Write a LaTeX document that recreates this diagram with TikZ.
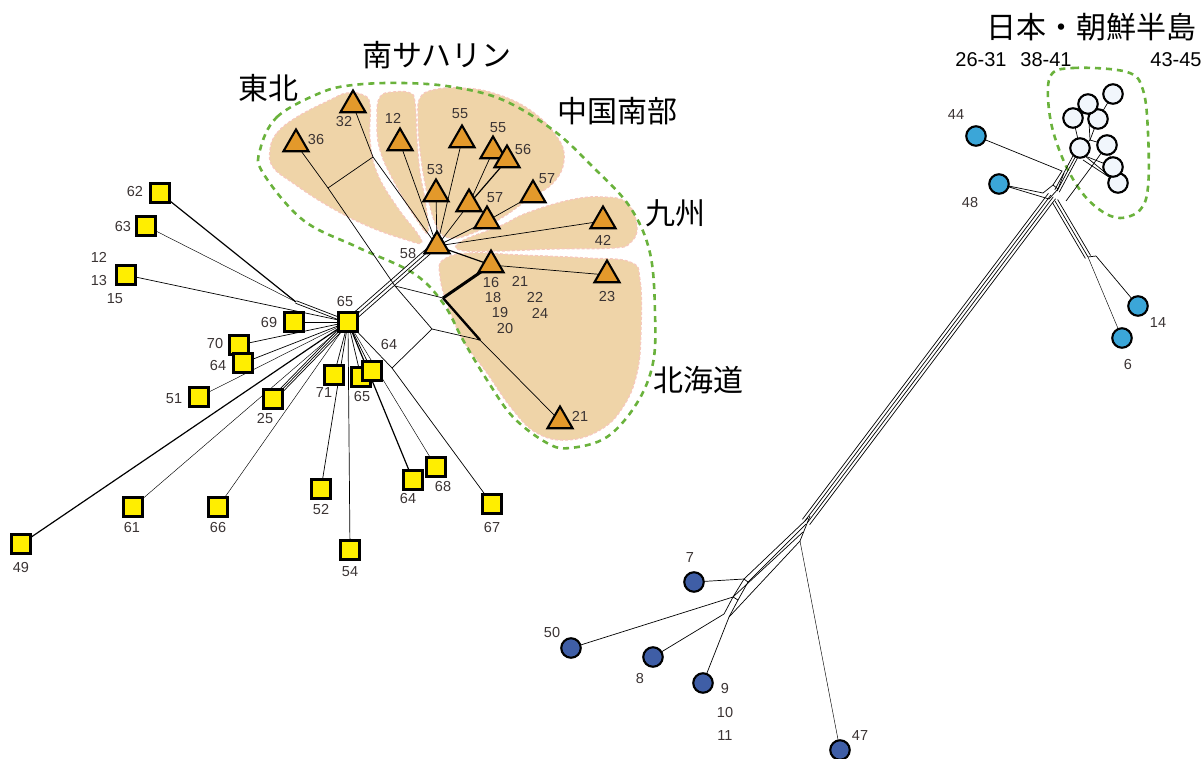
\documentclass[tikz,border=0pt]{standalone}
\usepackage{fontspec}
\setmainfont{Liberation Sans}
\newfontfamily\jp{Noto Sans CJK JP}
\usetikzlibrary{shapes.geometric,calc}
\definecolor{sqyellow}{HTML}{FFEE00}
\definecolor{triorange}{HTML}{E3992B}
\definecolor{lblue}{HTML}{3BA6D8}
\definecolor{dblue}{HTML}{3F5EA6}
\definecolor{wcirc}{HTML}{F1F6FC}
\definecolor{tan}{HTML}{EFD4A8}
\definecolor{tanedge}{HTML}{F6C8BC}
\definecolor{grn}{HTML}{6AB23C}
\definecolor{lblgrey}{HTML}{3A3333}
\pgfdeclarelayer{regions}
\pgfdeclarelayer{edges}
\pgfsetlayers{regions,edges,main}
\newcommand\bandline[3]{\draw[edge] ($(#1)!#3!90:(#2)$) -- ($(#2)!#3!-90:(#1)$);}
\tikzset{
  sq/.style={draw=black, line width=2.1pt, fill=sqyellow, minimum size=19pt, inner sep=0pt},
  tri/.style={regular polygon, regular polygon sides=3, draw=black, line width=2.1pt, fill=triorange, minimum size=29pt, inner sep=0pt},
  cir/.style={circle, draw=black, line width=2.1pt, minimum size=19.5pt, inner sep=0pt},
  lc/.style={cir, fill=lblue},
  dc/.style={cir, fill=dblue},
  wc/.style={cir, fill=wcirc},
  lbl/.style={font=\fontsize{14.5}{15}\selectfont, text=lblgrey, inner sep=0pt},
  rng/.style={font=\fontsize{20}{20}\selectfont, text=black, inner sep=0pt},
  ttl/.style={font=\jp\fontsize{30}{30}\selectfont, text=black, inner sep=0pt},
  edge/.style={line width=0.7pt, black},
  thinedge/.style={line width=0.45pt, black},
  heavy/.style={line width=1.2pt, black},
  region/.style={fill=tan, draw=tanedge, line width=1.3pt, dash pattern=on 3pt off 2pt},
  outline/.style={draw=grn, line width=2.6pt, dash pattern=on 6pt off 5pt},
}
\begin{document}
\begin{tikzpicture}[x=1pt,y=-1pt]
\useasboundingbox (0,0) rectangle (1204,758);

% ---------- squares ----------
\node[sq] (s62) at (160,193) {};
\node[sq] (s63) at (146,226) {};
\node[sq] (s12) at (126,275) {};
\node[sq] (s69) at (294,322) {};
\node[sq] (s65) at (348,322) {};
\node[sq] (s70) at (239,345) {};
\node[sq] (s64a) at (243,363) {};
\node[sq] (s51) at (199,397) {};
\node[sq] (s25) at (273,399) {};
\node[sq] (s71) at (334,375) {};
\node[sq] (s65b) at (361,377) {};
\node[sq] (s65c) at (372,371) {};
\node[sq] (s49) at (21,544) {};
\node[sq] (s61) at (133,507) {};
\node[sq] (s66) at (218,507) {};
\node[sq] (s52) at (321,489) {};
\node[sq] (s54) at (350,550) {};
\node[sq] (s64b) at (413,480) {};
\node[sq] (s68) at (436,467) {};
\node[sq] (s67) at (492,504) {};

% ---------- triangles ----------
\node[tri] (t32) at (353,105) {};
\node[tri] (t36) at (296,144) {};
\node[tri] (t12) at (400,143) {};
\node[tri] (t55a) at (462,140) {};
\node[tri] (t55b) at (493,151) {};
\node[tri] (t56) at (507,160) {};
\node[tri] (t53) at (436,194) {};
\node[tri] (t57a) at (469,204) {};
\node[tri] (t57b) at (487,221) {};
\node[tri] (t57c) at (533,195) {};
\node[tri] (t42) at (603,221) {};
\node[tri] (t58) at (437,246) {};
\node[tri] (t16) at (491,265) {};
\node[tri] (t23) at (607,275) {};
\node[tri] (t21) at (560,421) {};

% ---------- circles ----------
\node[lc] (c44) at (976,136) {};
\node[lc] (c48) at (999,184) {};
\node[lc] (c14) at (1138,306) {};
\node[lc] (c6) at (1122,338) {};
\node[wc] (w8) at (1118,183) {};
\node[wc] (w7) at (1113,167) {};
\node[wc] (w6) at (1107,145) {};
\node[wc] (w5) at (1080,148) {};
\node[wc] (w4) at (1098,119) {};
\node[wc] (w3) at (1073,118) {};
\node[wc] (w2) at (1088,104) {};
\node[wc] (w1) at (1113,94) {};
\node[dc] (d7) at (694,582) {};
\node[dc] (d50) at (571,648) {};
\node[dc] (d8) at (653,657) {};
\node[dc] (d9) at (703,683) {};
\node[dc] (d47) at (840,750) {};

% ---------- internal points ----------
\coordinate (G) at (296,302);
\coordinate (E) at (392,368);
\coordinate (A) at (395,286);
\coordinate (B) at (443,298);
\coordinate (C) at (432,329);
\coordinate (D) at (480,340);
\coordinate (K1) at (373,157);
\coordinate (K2) at (328,188);
\coordinate (N58) at (431,249);
\coordinate (P) at (806,522);
\coordinate (Q) at (1052,196);
\coordinate (PT) at (810,516);
\coordinate (PB) at (800,541);
\coordinate (L1) at (744,579);
\coordinate (L2) at (733,597);
\coordinate (L3) at (724,614);
\coordinate (M1) at (748,582);
\coordinate (M2) at (738,600);
\coordinate (M3) at (729,617);
\coordinate (J1) at (1043,193);
\coordinate (J2) at (1062,171);
\coordinate (J3) at (1053,185);
\coordinate (J4) at (1058,189);
\coordinate (J5) at (1049,199);
\coordinate (R1) at (1055,201);
\coordinate (R2) at (1088,257);
\coordinate (R3) at (1096,256);
\coordinate (U1) at (1057,191);
\coordinate (U2) at (1066,201);
\coordinate (U3) at (1092,166);
\coordinate (W0) at (1090,140);
\coordinate (W9) at (1085,156);

% ---------- regions ----------
\begin{pgfonlayer}{regions}
\draw[region] plot[smooth cycle, tension=0.7] coordinates {(270,150) (277,133) (297,117) (330,100) (347,93) (363,95) (370,105) (370,140) (377,173) (397,207) (417,233) (421,243) (407,240) (370,227) (330,207) (293,183) (273,167)};
\draw[region] plot[smooth cycle, tension=0.7] coordinates {(380,97) (393,92) (410,93) (415,103) (417,140) (420,173) (425,200) (428,232) (417,220) (397,187) (380,150) (377,117)};
\draw[region] plot[smooth cycle, tension=0.7] coordinates {(420,98) (433,90) (460,88) (493,93) (530,110) (557,137) (564,160) (553,183) (527,200) (503,217) (473,233) (450,238) (437,227) (427,193) (420,150) (418,117)};
\draw[region] plot[smooth cycle, tension=0.7] coordinates {(462,241) (500,226) (527,213) (570,200) (603,197) (627,203) (637,227) (630,243) (613,248) (553,249) (497,251) (460,250)};
\draw[region] plot[smooth cycle, tension=0.7] coordinates {(443,260) (470,253) (520,255) (587,258) (630,262) (640,280) (641,330) (637,373) (623,407) (600,430) (567,440) (537,433) (513,410) (487,373) (463,340) (447,303) (440,276)};
\draw[outline] plot[smooth cycle, tension=0.6] coordinates {(260,150) (277,117) (320,93) (353,85) (403,83) (453,87) (503,100) (553,130) (593,167) (630,207) (650,253) (655,313) (653,363) (637,403) (607,437) (570,448) (547,443) (513,417) (487,380) (463,340) (443,303) (413,273) (357,247) (303,220) (263,173)};
\draw[outline] plot[smooth cycle, tension=0.6] coordinates {(1050,77) (1073,68) (1127,72) (1143,90) (1148,133) (1148,187) (1140,210) (1120,218) (1100,210) (1080,190) (1062,157) (1050,117)};
\end{pgfonlayer}

% ---------- edges ----------
\begin{pgfonlayer}{edges}
% left square cluster
\draw[heavy] (s62.center) -- (G);
\draw[thinedge] (s63.center) -- (G);
\bandline{G}{s65.center}{-1.3pt}
\bandline{G}{s65.center}{1.3pt}
\draw[edge] (s12.center) -- (s65.center);
\draw[edge] (s69.center) -- (s65.center);
\draw[edge] (s70.center) -- (s65.center);
\draw[edge] (s64a.center) -- (s65.center);
\draw[thinedge] (s51.center) -- (s65.center);
\bandline{s25.center}{s65.center}{-2pt}
\bandline{s25.center}{s65.center}{0pt}
\bandline{s25.center}{s65.center}{2pt}
\draw[thinedge] (s61.center) -- (s65.center);
\draw[heavy] (s49.center) -- (s65.center);
\draw[thinedge] (s66.center) -- (s65.center);
\draw[edge] (s71.center) -- (s65.center);
\draw[edge] (s65b.center) -- (s65.center);
\draw[edge] (s65c.center) -- (s65.center);
\draw[edge] (s52.center) -- (s65.center);
\draw[edge] (s54.center) -- (s65.center);
\draw[heavy] (s64b.center) -- (s65.center);
\draw[thinedge] (s68.center) -- (s65.center);
\draw[edge] (s65.center) -- (E) -- (s67.center);
% band 65 - 58
\bandline{s65.center}{N58}{-3.2pt}
\bandline{s65.center}{N58}{0pt}
\bandline{s65.center}{N58}{3.2pt}
\draw[edge] (N58) -- (t58.center);
% splits box
\draw[edge] (t36.center) -- (K2) -- (A);
\draw[edge] (K2) -- (K1);
\draw[edge] (t32.center) -- (K1) -- (t58.center);
\draw[edge] (A) -- (B);
\draw[edge] (A) -- (C);
\draw[edge] (C) -- (D);
\draw[edge] (C) -- (E);
\draw[line width=2.4pt] (B) -- (D);
\draw[line width=3pt] (B) -- (t16.center);
\draw[edge] (D) -- (t21.center);
% triangle fan
\draw[edge] (t58.center) -- (t12.center);
\draw[edge] (t58.center) -- (t53.center);
\draw[edge] (t58.center) -- (t55a.center);
\draw[edge] (t58.center) -- (t57a.center);
\draw[edge] (t57a.center) -- (t55b.center);
\draw[heavy] (t57a.center) -- (t56.center);
\draw[edge] (t58.center) -- (t57b.center);
\draw[edge] (t57b.center) -- (t57c.center);
\draw[edge] (t58.center) -- (t42.center);
\draw[heavy] (t58.center) -- (t16.center);
\draw[edge] (t16.center) -- (t23.center);
% long band
\bandline{P}{Q}{-4.5pt}
\bandline{P}{Q}{-1.5pt}
\bandline{P}{Q}{1.5pt}
\bandline{P}{Q}{4.5pt}
% bottom hub
\draw[edge] (PT) -- (PB);
\draw[edge] (808,518) -- (L1);
\draw[edge] (806,524) -- (M1);
\draw[edge] (803,532) -- (L2);
\draw[edge] (PB) -- (M3);
\draw[edge] (L1) -- (L2) -- (L3);
\draw[edge] (M1) -- (M2) -- (M3);
\draw[edge] (L1) -- (M1);
\draw[edge] (L2) -- (M2);
\draw[edge] (d7.center) -- (L1);
\draw[edge] (d50.center) -- (L2);
\draw[edge] (d8.center) -- (L3);
\draw[edge] (d9.center) -- (M3);
\draw[thinedge] (PB) -- (d47.center);
% top hub
\draw[edge] (c48.center) -- (J1) -- (J3) -- (J4) -- (J5) -- cycle;
\draw[edge] (c44.center) -- (J2) -- (J3);
\draw[edge] (1064,173) -- (J4);
\bandline{U1}{w5.center}{-2.5pt}
\bandline{U1}{w5.center}{0pt}
\bandline{U1}{w5.center}{2.5pt}
\draw[edge] (U2) -- (U3) -- (w6.center);
\bandline{R1}{R2}{-3pt}
\bandline{R1}{R2}{0pt}
\bandline{R1}{R2}{3pt}
\draw[edge] (R2) -- (R3);
\draw[thinedge] (R2) -- (c6.center);
\draw[edge] (R3) -- (c14.center);
\draw[edge] (w5.center) -- (W0) -- (w2.center);
\draw[edge] (W0) -- (w4.center) -- (w1.center);
\draw[edge] (w5.center) -- (w3.center);
\draw[edge] (W0) -- (w6.center) -- (w7.center);
\draw[edge] (W9) -- (w8.center);
\draw[edge] (1083,160) -- (w8.center);
\draw[edge] (W9) -- (w7.center);
\end{pgfonlayer}

% ---------- titles ----------
\node[ttl] (tTohoku) at (268,88) {東北};
\node[ttl] (tSakh) at (437,55) {南サハリン};
\node[ttl] (tChugoku) at (617,111) {中国南部};
\node[ttl] (tKyushu) at (675,213) {九州};
\node[ttl] (tHokkaido) at (698,380) {北海道};
\node[ttl] (tJapan) at (1091,27) {日本・朝鮮半島};
\node[rng] (r1) at (981,60) {26-31};
\node[rng] (r2) at (1046,60) {38-41};
\node[rng] (r3) at (1176,60) {43-45};

% ---------- labels ----------
\node[lbl] (l62) at (135,192) {62};
\node[lbl] (l63) at (123,227) {63};
\node[lbl] (l12) at (99,257) {12};
\node[lbl] (l13) at (99,281) {13};
\node[lbl] (l15) at (115,299) {15};
\node[lbl] (l69) at (269,323) {69};
\node[lbl] (l65) at (345,302) {65};
\node[lbl] (l70) at (215,344) {70};
\node[lbl] (l64a) at (218,366) {64};
\node[lbl] (l51) at (174,399) {51};
\node[lbl] (l25) at (265,419) {25};
\node[lbl] (l71) at (324,393) {71};
\node[lbl] (l65b) at (362,397) {65};
\node[lbl] (l64m) at (389,345) {64};
\node[lbl] (l49) at (21,567) {49};
\node[lbl] (l61) at (132,527) {61};
\node[lbl] (l66) at (218,527) {66};
\node[lbl] (l52) at (321,509) {52};
\node[lbl] (l54) at (350,572) {54};
\node[lbl] (l64b) at (408,498) {64};
\node[lbl] (l68) at (443,486) {68};
\node[lbl] (l67) at (492,527) {67};
\node[lbl] (l32) at (344,122) {32};
\node[lbl] (l36) at (316,140) {36};
\node[lbl] (l12t) at (393,118) {12};
\node[lbl] (l55a) at (460,114) {55};
\node[lbl] (l55b) at (498,128) {55};
\node[lbl] (l56) at (523,150) {56};
\node[lbl] (l53) at (435,170) {53};
\node[lbl] (l57a) at (495,198) {57};
\node[lbl] (l57c) at (547,179) {57};
\node[lbl] (l42) at (603,240) {42};
\node[lbl] (l58) at (408,254) {58};
\node[lbl] (l16) at (491,283) {16};
\node[lbl] (l21a) at (520,281) {21};
\node[lbl] (l18) at (493,298) {18};
\node[lbl] (l22) at (535,297) {22};
\node[lbl] (l19) at (500,313) {19};
\node[lbl] (l24) at (540,313) {24};
\node[lbl] (l20) at (505,329) {20};
\node[lbl] (l23) at (607,297) {23};
\node[lbl] (l21b) at (580,416) {21};
\node[lbl] (l44) at (956,115) {44};
\node[lbl] (l48) at (970,203) {48};
\node[lbl] (l14) at (1158,323) {14};
\node[lbl] (l6) at (1128,365) {6};
\node[lbl] (l7) at (690,558) {7};
\node[lbl] (l50) at (552,632) {50};
\node[lbl] (l8) at (640,678) {8};
\node[lbl] (l9) at (725,688) {9};
\node[lbl] (l10) at (725,712) {10};
\node[lbl] (l11) at (725,735) {11};
\node[lbl] (l47) at (860,735) {47};
\end{tikzpicture}
\end{document}
